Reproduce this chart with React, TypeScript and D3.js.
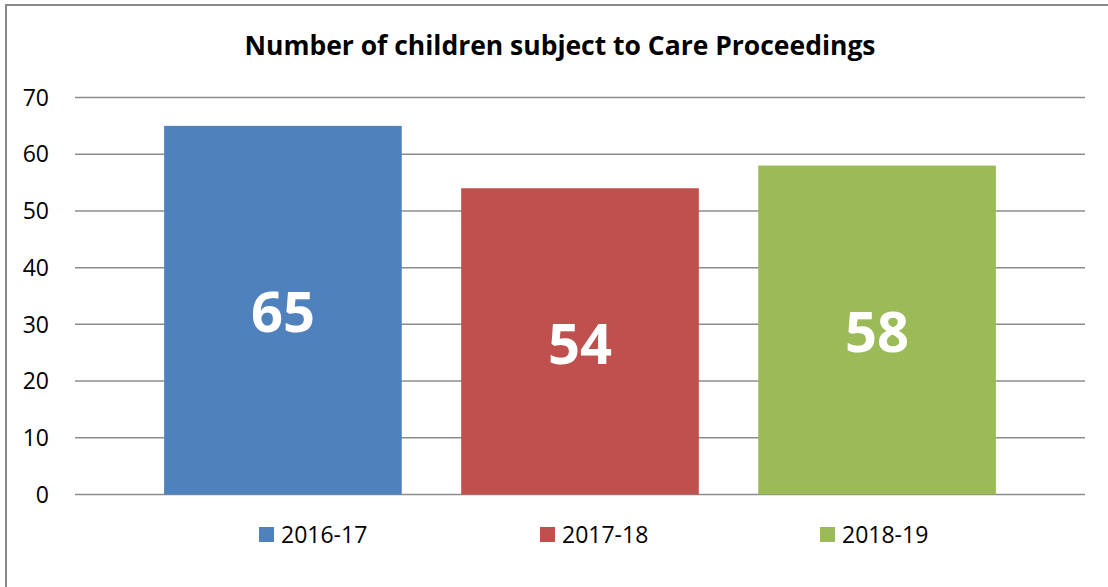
import React from "react";
import * as d3 from "d3";

const series = ["2016-17", "2017-18", "2018-19"];
const values = [65, 54, 58];
const colors = ["#4F81BD", "#C0504D", "#9BBB59"];
const yTicks = [0, 10, 20, 30, 40, 50, 60, 70];
const title = "Number of children subject to Care Proceedings";

const W = 1108;
const H = 587;
const FONT = "'Open Sans', 'Noto Sans', sans-serif";

export default function App() {
  const x = d3
    .scaleBand<string>()
    .domain(series)
    .range([75, 1085])
    .paddingInner(0.2)
    .paddingOuter(0.3);
  const y = d3.scaleLinear().domain([0, 70]).range([494.5, 97.5]);

  const legendX = [259, 540, 820];

  return (
    <svg
      width={W}
      height={H}
      style={{ position: "absolute", left: 0, top: 0, background: "#fff" }}
    >
      <rect x={0} y={0} width={W} height={H} fill="#fff" />
      <rect
        x={6}
        y={5}
        width={W + 20}
        height={H + 20}
        fill="none"
        stroke="#888888"
        strokeWidth={2}
      />
      <text
        x={560}
        y={55}
        textAnchor="middle"
        fontFamily={FONT}
        fontWeight="bold"
        fontSize={26}
        textLength={631}
        lengthAdjust="spacingAndGlyphs"
        fill="#000"
      >
        {title}
      </text>
      {yTicks.map((t) => (
        <g key={t}>
          <line
            x1={75}
            x2={1085}
            y1={y(t)}
            y2={y(t)}
            stroke="#8c8c8c"
            strokeWidth={1.5}
          />
          <text
            x={49}
            y={y(t)}
            dy="0.36em"
            textAnchor="end"
            fontFamily={FONT}
            fontSize={23}
            fill="#000"
          >
            {t}
          </text>
        </g>
      ))}
      {series.map((s, i) => (
        <g key={s}>
          <rect
            x={x(s)}
            y={y(values[i])}
            width={x.bandwidth()}
            height={y(0) - y(values[i])}
            fill={colors[i]}
          />
          <text
            x={(x(s) as number) + x.bandwidth() / 2}
            y={(y(values[i]) + y(0)) / 2 + 2}
            dy="0.36em"
            textAnchor="middle"
            fontFamily={FONT}
            fontWeight="bold"
            fontSize={56}
            fill="#fff"
          >
            {values[i]}
          </text>
        </g>
      ))}
      {series.map((s, i) => (
        <g key={"lg" + s}>
          <rect x={legendX[i]} y={527} width={15} height={15} fill={colors[i]} />
          <text
            x={legendX[i] + 22}
            y={542.5}
            fontFamily={FONT}
            fontSize={23}
            fill="#000"
          >
            {s}
          </text>
        </g>
      ))}
    </svg>
  );
}
